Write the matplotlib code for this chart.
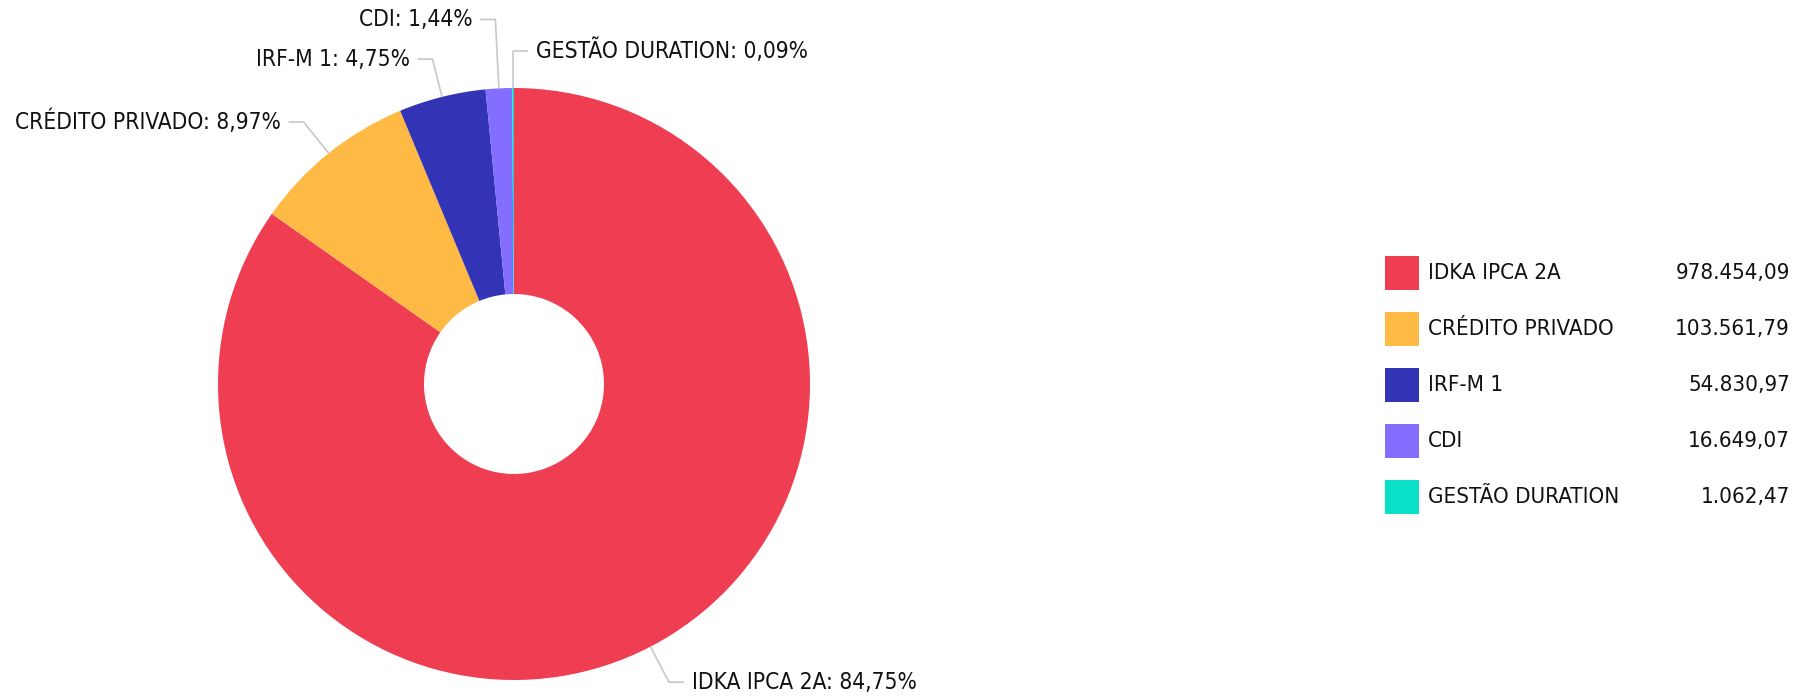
import numpy as np
import matplotlib
matplotlib.use("Agg")
import matplotlib.pyplot as plt
from matplotlib.patches import Rectangle

categories = ["IDKA IPCA 2A", "CRÉDITO PRIVADO", "IRF-M 1", "CDI", "GESTÃO DURATION"]
values = [978454.09, 103561.79, 54830.97, 16649.07, 1062.47]
colors = ["#EF3D52", "#FFBA45", "#3333B5", "#836EFF", "#0AE0C8"]

W, H = 1797, 697
BASE = dict(family=["DejaVu Sans"], fontstretch="condensed", color="#111111")
LABEL_FS = 16.3
LEGEND_FS = 16.0

def br(x, dec=2):
    s = f"{x:,.{dec}f}"
    return s.replace(",", "X").replace(".", ",").replace("X", ".")

fig = plt.figure(figsize=(W / 100, H / 100), dpi=100)
ax = fig.add_axes([0, 0, 1, 1])

cx, cy = 514, H - 384
R, r = 296, 90
wedges, _ = ax.pie(values, colors=colors, startangle=90, counterclock=False,
                   center=(cx, cy), radius=R,
                   wedgeprops=dict(width=R - r, linewidth=0))
ax.set_xlim(0, W)
ax.set_ylim(0, H)
ax.set_aspect("equal")
ax.axis("off")

total = sum(values)
# leader extension (px) per label; CDI pushed further to avoid overlap
ext = [40, 40, 39, 69, 37]
for w, cat, v, e in zip(wedges, categories, values, ext):
    ang = np.deg2rad((w.theta1 + w.theta2) / 2)
    dx, dy = np.cos(ang), np.sin(ang)
    x0, y0 = cx + R * dx, cy + R * dy
    x1, y1 = cx + (R + e) * dx, cy + (R + e) * dy
    if cat == "GESTÃO DURATION":
        side = 1
    else:
        side = 1 if dx > 0 else -1
    x2 = x1 + side * 15
    ax.plot([x0, x1, x2], [y0, y1, y1], color="#c8c8c8", lw=1.2,
            solid_capstyle="butt", zorder=1)
    pct = br(v / total * 100)
    ax.text(x2 + side * 8, y1, f"{cat}: {pct}%", ha="left" if side > 0 else "right",
            va="center", fontsize=LABEL_FS, **BASE)

# legend
lx, ly0, step, sq = 1385, 256, 56, 34
for i, (cat, v, c) in enumerate(zip(categories, values, colors)):
    top = ly0 + i * step
    ax.add_patch(Rectangle((lx, H - top - sq), sq, sq, facecolor=c, edgecolor="none"))
    yc = H - top - sq / 2
    ax.text(lx + 43, yc, cat, ha="left", va="center", fontsize=LEGEND_FS, **BASE)
    ax.text(1790, yc, br(v), ha="right", va="center", fontsize=LEGEND_FS, **BASE)

fig.savefig("out.png", dpi=100)
